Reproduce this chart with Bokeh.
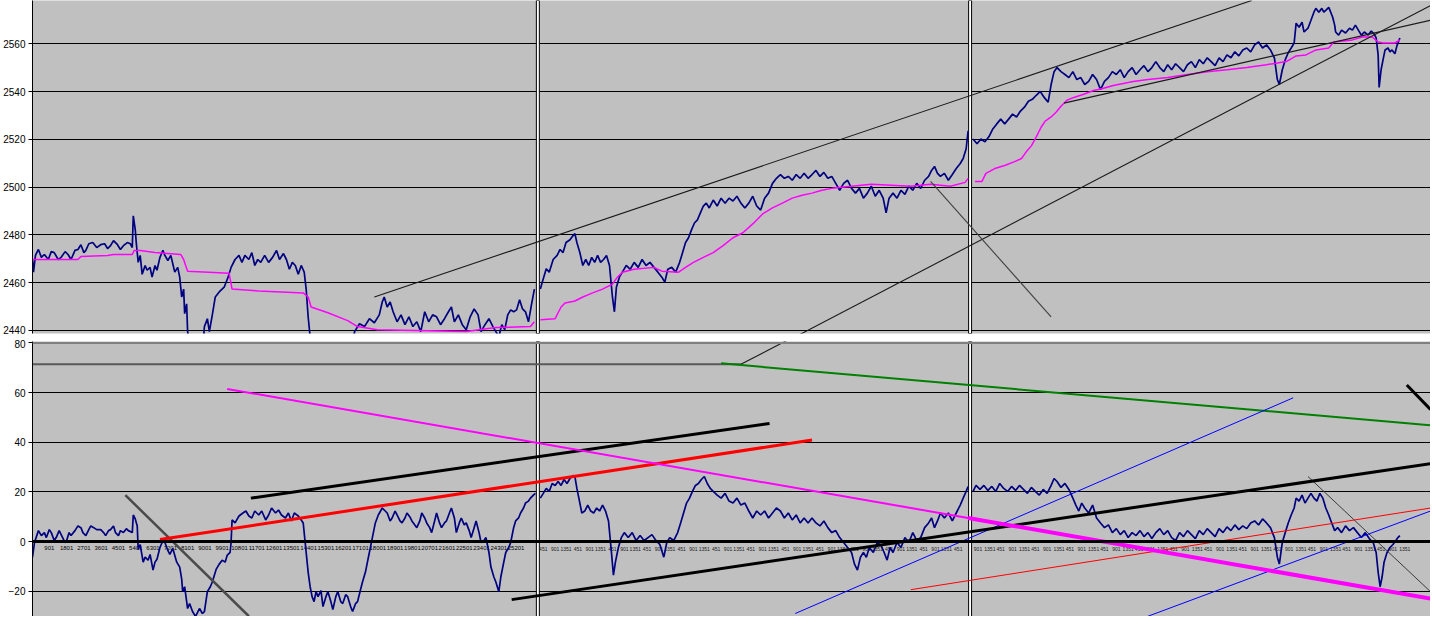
from bokeh.plotting import figure
from bokeh.layouts import column
from bokeh.models import Range1d, FixedTicker, Span
from bokeh.core.properties import value
from bokeh.embed import file_html
from bokeh.resources import INLINE

# ---------------- data (x = bar position, y = value) ----------------
price_ticks = [2440, 2460, 2480, 2500, 2520, 2540, 2560]
osc_ticks = [-20, 0, 20, 40, 60, 80]
day_breaks = [542.5, 980]

price_day1 = [(31,2469.7),(32,2464.4),(34,2471.4),(37,2473.9),(40,2470.6),(43,2471.8),(47,2469.7),(50,2473.0),
 (53,2472.6),(57,2469.7),(60,2470.6),(64,2473.0),(67,2471.8),(70,2469.7),(74,2473.5),(77,2473.9),(80,2475.9),
 (83,2472.6),(85,2473.5),(88,2476.3),(92,2476.8),(96,2474.7),(100,2475.9),(104,2476.3),(107,2474.3),(110,2475.5),
 (113,2477.6),(117,2475.9),(120,2473.9),(123,2475.5),(127,2476.8),(130,2476.3),(132,2474.7),(133,2488.0),
 (135,2482.2),(136,2476.8),(138,2468.5),(140,2471.4),(142,2463.5),(145,2467.2),(147,2465.2),(150,2466.4),
 (152,2462.3),(155,2467.2),(157,2465.2),(160,2470.6),(163,2473.5),(165,2471.4),(168,2469.3),(171,2471.4),
 (175,2464.4),(178,2466.4),(180,2462.3),(182,2454.0),(184,2457.3),(185,2447.0),(187,2451.1),(188,2439.5),
 (190,2435.4),(194,2432.0),(199,2428.0),(203,2430.0),(205,2441.6),(208,2444.9),(210,2439.5),(213,2446.5),
 (216,2454.0),(220,2456.1),(225,2458.1),(229,2462.3),(232,2466.4),(236,2469.7),(240,2471.4),(243,2468.5),
 (246,2471.4),(250,2469.7),(253,2472.6),(256,2467.2),(259,2469.7),(262,2468.5),(266,2471.4),(270,2468.5),
 (274,2470.6),(278,2473.5),(281,2469.7),(285,2472.2),(288,2469.7),(291,2465.6),(294,2468.5),(297,2467.2),
 (300,2463.5),(303,2467.2),(306,2464.4),(308,2457.3),(310,2445.7),(312,2437.4),(318,2430.0),(325,2425.0),
 (332,2428.0),(338,2426.0),(344,2430.0),(350,2427.0),(354,2432.0),(357,2439.5),(362,2442.8),(367,2441.6),
 (372,2444.9),(377,2443.2),(382,2446.5),(385,2451.9),(387,2454.0),(390,2449.8),(393,2451.9),(396,2447.8),
 (400,2443.6),(404,2446.5),(408,2442.4),(412,2445.7),(416,2441.6),(420,2443.6),(424,2439.5),(428,2447.8),
 (432,2443.6),(436,2446.5),(440,2445.7),(444,2442.4),(448,2444.9),(452,2447.8),(455,2449.8),(458,2443.6),
 (462,2446.5),(466,2442.4),(470,2440.3),(474,2445.7),(478,2449.0),(482,2446.5),(485,2439.5),(489,2442.4),
 (493,2444.9),(497,2441.6),(500,2439.5),(503,2437.4),(506,2442.4),(509,2440.3),(512,2446.5),(515,2448.6),
 (518,2447.8),(521,2448.6),(524,2452.8),(527,2449.0),(530,2447.8),(533,2443.6),(536,2450.7),(539,2457.3)]

price_day2 = [(545,2457.3),(548,2461.6),(551,2465.8),(554,2464.4),(558,2469.7),(562,2471.4),(565,2473.9),
 (568,2472.6),(571,2476.8),(575,2478.0),(578,2479.7),(580,2480.5),(582,2476.8),(585,2472.6),(588,2467.2),
 (591,2469.7),(594,2467.2),(597,2470.6),(600,2468.5),(603,2471.4),(606,2468.5),(609,2469.7),(612,2471.4),
 (615,2467.2),(618,2454.0),(620,2447.8),(622,2458.1),(625,2462.3),(628,2464.4),(632,2467.2),(636,2465.6),
 (640,2468.5),(644,2466.4),(648,2469.7),(652,2467.2),(656,2468.5),(660,2466.4),(664,2464.4),(668,2462.3),
 (671,2460.2),(674,2465.6),(678,2466.4),(682,2464.4),(686,2468.5),(689,2472.6),(692,2476.8),(695,2478.8),
 (698,2482.1),(701,2485.0),(704,2486.3),(707,2489.2),(710,2492.1),(713,2493.3),(716,2491.3),(720,2494.6),
 (724,2492.1),(728,2495.4),(732,2493.3),(736,2495.4),(740,2494.2),(744,2496.2),(748,2493.3),(752,2491.3),
 (756,2493.3),(760,2496.2),(764,2492.1),(768,2490.4),(772,2495.4),(776,2497.5),(780,2501.6),(784,2503.7),
 (788,2505.3),(792,2503.7),(796,2504.5),(800,2502.9),(804,2505.3),(808,2503.7),(812,2505.8),(816,2503.7),
 (820,2505.3),(824,2507.0),(828,2504.5),(832,2506.2),(836,2503.7),(840,2504.5),(844,2501.6),(848,2498.7),
 (852,2501.6),(856,2502.9),(860,2499.5),(864,2497.5),(868,2499.5),(872,2495.4),(876,2497.5),(880,2500.4),
 (884,2496.2),(888,2498.7),(892,2495.4),(895,2489.2),(898,2495.4),(902,2497.5),(906,2495.4),(910,2498.7),
 (914,2497.0),(918,2500.4),(922,2498.7),(926,2501.6),(930,2499.5),(934,2502.9),(938,2504.5),(941,2507.0),
 (944,2508.7),(947,2505.8),(950,2504.5),(954,2505.8),(958,2502.9),(962,2505.3),(966,2507.8),(970,2509.9),
 (973,2512.0),(976,2516.1),(978,2523.6)]

price_day3 = [(983,2520.2),(987,2518.2),(991,2520.2),(995,2519.0),(999,2521.1),(1003,2524.4),(1007,2526.5),
 (1011,2528.5),(1015,2526.5),(1019,2528.5),(1023,2530.6),(1027,2529.4),(1031,2531.9),(1035,2533.5),(1039,2536.0),
 (1043,2536.8),(1047,2538.5),(1051,2540.1),(1055,2537.6),(1059,2535.6),(1062,2543.0),(1065,2548.4),(1068,2550.1),
 (1072,2548.4),(1076,2547.2),(1080,2545.9),(1084,2548.4),(1088,2545.1),(1092,2545.9),(1096,2543.0),(1100,2544.3),
 (1104,2547.2),(1108,2545.1),(1112,2540.9),(1116,2544.3),(1120,2545.9),(1124,2548.4),(1128,2547.2),(1132,2549.2),
 (1136,2545.9),(1140,2548.4),(1144,2550.1),(1148,2547.2),(1152,2549.2),(1156,2550.9),(1160,2548.4),(1164,2550.1),
 (1168,2552.6),(1172,2550.1),(1176,2548.4),(1180,2551.3),(1184,2549.2),(1188,2551.7),(1192,2550.1),(1196,2548.4),
 (1200,2551.3),(1204,2552.6),(1208,2550.1),(1212,2553.4),(1216,2551.7),(1220,2554.2),(1224,2552.6),(1228,2550.9),
 (1232,2554.2),(1236,2552.6),(1240,2555.4),(1244,2554.2),(1248,2556.7),(1252,2555.0),(1256,2557.5),(1260,2558.3),
 (1264,2556.7),(1268,2559.6),(1272,2560.8),(1276,2558.3),(1280,2559.6),(1284,2557.5),(1288,2554.2),(1291,2545.1),
 (1293,2543.0),(1296,2549.2),(1299,2553.4),(1302,2556.3),(1305,2558.3),(1308,2560.4),(1310,2568.7),(1313,2567.0),
 (1316,2569.1),(1318,2565.0),(1322,2566.6),(1325,2569.9),(1328,2573.3),(1330,2574.9),(1333,2573.3),(1336,2574.9),
 (1338,2573.3),(1341,2574.5),(1343,2575.3),(1345,2573.3),(1347,2571.2),(1349,2567.9),(1350,2565.0),(1353,2563.7),
 (1356,2565.8),(1360,2564.6),(1364,2566.6),(1367,2565.8),(1370,2567.9),(1373,2565.8),(1376,2563.7),(1379,2565.0),
 (1383,2563.7),(1386,2565.4),(1389,2564.1),(1391,2562.5),(1393,2555.4),(1394,2541.8),(1396,2549.2),(1398,2553.4),
 (1400,2557.5),(1403,2558.3),(1405,2556.7),(1407,2557.5),(1410,2555.9),(1412,2559.2),(1415,2562.5)]

vwap_day1 = [(31,2469.7),(77,2469.7),(80,2471.0),(107,2471.4),(113,2471.8),(132,2471.8),(134,2473.5),(140,2473.5),
 (155,2472.6),(181,2471.8),(184,2469.7),(186,2467.2),(188,2464.8),(230,2463.9),(233,2457.3),(260,2456.5),
 (305,2455.7),(310,2454.0),(313,2449.8),(330,2447.4),(350,2444.1),(360,2441.6),(380,2440.3),(470,2439.5),
 (500,2441.2),(535,2441.6),(539,2443.6)]
vwap_day2 = [(545,2444.5),(560,2444.9),(563,2447.4),(566,2449.8),(570,2451.5),(580,2452.3),(588,2454.0),
 (598,2455.7),(608,2457.3),(618,2459.4),(623,2462.3),(628,2464.4),(640,2465.6),(660,2466.4),(668,2464.8),
 (685,2464.4),(692,2466.4),(700,2468.5),(710,2470.6),(720,2472.6),(730,2475.5),(740,2478.8),(750,2480.9),
 (760,2484.6),(770,2488.8),(780,2491.3),(790,2493.3),(800,2495.4),(810,2496.6),(820,2497.5),(830,2498.7),
 (840,2499.5),(860,2500.4),(880,2501.2),(900,2500.8),(920,2500.4),(940,2501.2),(960,2500.4),(975,2502.0),
 (978,2503.7)]
vwap_day3 = [(985,2502.4),(992,2502.4),(996,2505.8),(1005,2507.8),(1015,2509.1),(1025,2510.7),(1032,2512.0),
 (1037,2514.9),(1042,2517.3),(1047,2521.1),(1052,2525.2),(1056,2527.7),(1062,2529.4),(1067,2531.4),(1072,2533.9),
 (1078,2536.4),(1085,2537.6),(1095,2538.9),(1105,2540.5),(1115,2541.4),(1125,2542.6),(1135,2543.4),(1145,2544.3),
 (1160,2545.1),(1180,2545.9),(1200,2547.2),(1220,2548.4),(1240,2549.2),(1260,2550.1),(1280,2551.3),(1300,2552.6),
 (1310,2555.0),(1320,2555.4),(1330,2557.5),(1343,2558.3),(1348,2560.8),(1367,2561.7),(1377,2562.9),(1387,2562.9),
 (1393,2560.8),(1398,2560.4),(1410,2560.4),(1415,2561.7)]

osc_day1 = [(31,-6.3),(33,-0.4),(37,4.4),(40,2.4),(43,3.6),(45,1.6),(48,4.8),(50,3.6),(53,0.4),(55,1.6),(58,4.4),
 (60,2.8),(63,0.4),(65,-0.4),(68,3.6),(70,2.4),(74,4.4),(77,6.3),(80,5.6),(82,3.6),(85,2.4),(88,4.8),(90,6.3),
 (93,5.6),(96,4.8),(100,4.8),(103,3.6),(105,2.4),(108,4.4),(110,4.8),(113,6.3),(115,3.6),(118,2.4),(120,4.4),
 (123,3.6),(126,5.2),(128,4.4),(132,3.6),(133,10.7),(135,9.1),(137,6.3),(138,-3.2),(140,-1.2),(143,-8.3),
 (145,-6.3),(148,-7.5),(150,-5.2),(153,-11.5),(155,-8.3),(157,-7.1),(160,-2.4),(163,0.4),(165,-0.4),(168,-3.6),
 (170,-5.2),(173,-2.8),(177,-8.3),(180,-10.3),(182,-15.1),(183,-20.2),(185,-18.2),(188,-27.0),(190,-25.0),
 (193,-28.2),(196,-30.2),(200,-27.0),(203,-29.0),(205,-28.2),(208,-20.2),(211,-18.2),(213,-16.3),(217,-11.1),
 (220,-9.1),(223,-7.5),(226,-8.3),(228,-5.6),(231,-4.4),(232,-0.4),(233,8.7),(236,7.5),(240,10.3),(244,11.5),
 (247,12.3),(250,10.3),(253,9.5),(256,12.3),(260,10.7),(263,12.3),(267,8.7),(270,10.7),(273,13.5),(277,11.5),
 (280,12.7),(283,10.7),(287,9.5),(290,11.5),(293,8.3),(296,11.5),(300,10.3),(303,8.7),(305,7.5),(308,-4.4),
 (310,-12.3),(312,-18.2),(314,-22.2),(316,-24.2),(318,-20.2),(320,-22.2),(323,-19.8),(325,-26.2),(328,-22.2),
 (330,-20.2),(333,-24.2),(335,-27.4),(338,-22.2),(340,-20.2),(343,-24.2),(345,-25.0),(348,-21.4),(350,-22.2),
 (353,-26.2),(355,-28.2),(358,-25.0),(360,-24.2),(363,-19.4),(365,-16.3),(368,-12.3),(370,-8.3),(373,-2.4),
 (375,1.6),(378,7.5),(381,10.7),(385,13.5),(388,12.3),(390,11.5),(393,8.3),(395,9.5),(398,12.3),(400,10.7),
 (403,8.3),(405,7.5),(408,9.5),(410,11.5),(413,9.9),(415,8.3),(418,6.7),(420,5.6),(423,8.3),(425,11.5),
 (428,9.5),(430,7.5),(433,5.6),(435,3.6),(438,8.3),(440,11.5),(443,7.5),(445,5.6),(448,7.5),(450,8.3),
 (453,11.5),(455,13.5),(458,9.5),(460,3.6),(463,7.5),(465,9.5),(468,6.7),(470,7.5),(473,4.4),(475,1.6),
 (478,5.6),(480,8.3),(483,3.6),(485,-0.4),(488,0.4),(490,1.6),(493,-4.4),(495,-10.3),(498,-14.3),(500,-16.3),
 (503,-20.2),(505,-14.3),(508,-8.3),(510,-4.4),(513,-2.4),(515,-0.4),(518,5.6),(520,8.3),(523,9.5),(525,11.5),
 (528,13.5),(530,15.5),(533,16.3),(535,17.5),(538,18.7),(540,19.4)]

osc_day2 = [(545,17.5),(548,19.4),(551,21.4),(554,20.2),(557,23.4),(560,22.6),(563,24.2),(566,22.6),(569,25.0),
 (572,23.4),(575,25.4),(578,26.6),(580,26.2),(582,21.4),(584,17.5),(587,11.5),(590,12.3),(593,14.7),(596,12.3),
 (599,11.5),(602,13.5),(605,12.3),(608,14.7),(611,12.3),(614,8.3),(617,-4.4),(619,-13.5),(621,-8.3),(624,-2.4),
 (627,1.6),(630,3.6),(634,1.6),(638,3.6),(642,0.4),(646,2.4),(650,0.4),(654,1.6),(658,2.8),(662,0.4),(666,-1.2),
 (670,-6.3),(673,-0.4),(676,1.6),(680,0.4),(684,3.6),(687,7.5),(690,11.5),(693,15.5),(696,17.5),(699,20.2),
 (702,22.6),(705,23.4),(708,25.0),(711,26.2),(714,23.4),(717,21.4),(720,20.2),(724,18.7),(728,17.5),(732,19.4),
 (736,16.3),(740,15.5),(744,17.5),(748,14.7),(752,15.5),(756,12.3),(760,9.5),(764,12.3),(768,10.7),(772,12.3),
 (776,9.5),(780,11.5),(784,13.5),(788,12.3),(792,9.5),(796,11.5),(800,8.7),(804,10.7),(808,7.5),(812,9.5),
 (816,7.5),(820,9.5),(824,7.5),(828,6.3),(832,8.3),(836,5.6),(840,3.6),(844,4.4),(848,1.6),(852,-0.4),
 (856,-2.4),(860,-4.4),(863,-9.1),(866,-11.5),(869,-6.3),(872,-4.4),(875,-6.3),(878,-2.4),(882,-4.4),(886,-0.4),
 (890,-1.6),(893,-4.4),(896,-7.5),(899,-2.4),(902,-4.4),(906,-0.4),(910,-2.4),(914,1.6),(918,-0.4),(922,3.6),
 (926,0.4),(930,1.6),(934,5.6),(938,7.5),(941,9.5),(944,5.6),(947,8.3),(950,11.5),(954,9.5),(958,11.5),
 (962,8.3),(966,11.5),(970,14.7),(973,17.5),(976,20.2),(978,22.2)]

osc_day3 = [(983,20.2),(986,22.6),(990,21.0),(994,22.6),(998,20.6),(1002,22.2),(1006,20.2),(1010,23.4),(1014,21.4),
 (1018,20.2),(1022,22.2),(1026,20.6),(1030,22.6),(1034,21.0),(1038,19.4),(1042,21.8),(1046,20.2),(1050,18.7),
 (1054,21.0),(1058,19.4),(1062,22.6),(1065,25.4),(1068,24.2),(1072,21.8),(1076,23.4),(1080,21.0),(1084,17.5),
 (1087,14.7),(1090,12.3),(1093,15.5),(1096,13.5),(1100,11.5),(1104,14.7),(1108,9.5),(1112,7.5),(1116,5.6),
 (1120,6.7),(1124,3.6),(1128,5.2),(1132,2.8),(1136,4.4),(1140,1.6),(1144,3.6),(1148,2.4),(1152,4.4),(1156,2.0),
 (1160,3.6),(1164,1.2),(1168,3.6),(1172,5.2),(1176,2.8),(1180,4.4),(1184,1.6),(1188,0.4),(1192,3.6),(1196,2.0),
 (1200,4.4),(1204,2.8),(1208,1.2),(1212,4.4),(1216,2.8),(1220,5.2),(1224,3.6),(1228,2.0),(1232,5.2),(1236,3.6),
 (1240,5.9),(1244,4.4),(1248,6.7),(1252,4.8),(1256,6.3),(1260,5.2),(1264,7.5),(1268,8.3),(1272,6.7),(1276,9.1),
 (1280,7.5),(1284,5.6),(1288,1.6),(1291,-6.3),(1293,-9.1),(1296,-0.4),(1299,3.6),(1302,7.5),(1305,10.7),
 (1308,13.5),(1310,17.5),(1313,16.3),(1316,18.7),(1319,15.5),(1322,17.5),(1325,19.4),(1328,17.5),(1331,16.3),
 (1334,19.4),(1337,17.5),(1340,13.5),(1343,10.7),(1346,7.5),(1349,4.4),(1352,5.6),(1356,3.6),(1360,6.3),
 (1364,4.4),(1368,5.6),(1372,3.6),(1376,1.6),(1380,3.6),(1384,1.2),(1388,-0.4),(1391,-4.4),(1393,-12.3),
 (1395,-18.2),(1397,-14.3),(1399,-8.3),(1402,-4.4),(1405,-2.4),(1408,-1.2),(1411,0.4),(1413,1.6),(1415,2.4)]

# trend lines drawn on the price panel (endpoints)
price_channel_upper = [(377, 2454.0), (1265, 2578.2)]
price_channel_lower = [(748, 2425.4), (1446, 2576.1)]
price_short_up = [(1075, 2535.2), (1446, 2569.9)]
price_down = [(940, 2502.4), (1062, 2445.7)]

# trend lines drawn on the oscillator panel (endpoints)
osc_channel_lower = [(748, 71.4), (1446, 215.9)]
osc_level = [(31, 71.4), (748, 71.4)]
osc_magenta_a = [(228, 61.5), (978, 9.5)]
osc_magenta_b = [(978, 9.5), (1446, -23.0)]
osc_red = [(160, 0.8), (820, 40.9)]
osc_black_up = [(252, 17.5), (777, 47.6)]
osc_black_low = [(516, -23.4), (1446, 31.4)]
osc_green = [(728, 71.8), (1446, 46.8)]
osc_blue_a = [(803, -29.0), (1307, 57.9)]
osc_blue_b = [(1160, -30.1), (1446, 12.3)]
osc_red_thin = [(920, -19.4), (1446, 13.5)]
osc_gray_a = [(125, 18.7), (250, -30.1)]
osc_gray_b = [(1322, 26.2), (1446, -20.2)]
osc_black_short = [(1422, 63.1), (1446, 53.2)]

# bar-count labels printed under the zero line
bar_label_x = [48, 65.5, 83, 100.5, 118, 135.5, 153, 170.5, 188, 205.5, 223, 240.5, 258, 275.5, 293, 310.5,
               328, 345.5, 363, 380.5, 398, 415.5, 433, 450.5, 468, 485.5, 503, 520.5]
bar_label_text = ["901", "1801", "2701", "3601", "4501", "5401", "6301", "7201", "8101", "9001", "9901",
                  "10801", "11701", "12601", "13501", "14401", "15301", "16201", "17101", "18001", "18901",
                  "19801", "20701", "21601", "22501", "23401", "24301", "25201"]
bar_label2_x = [548, 560, 571, 583, 595, 606, 618, 630, 641, 653, 665, 676, 688, 700, 711, 723, 735, 746, 758,
                770, 781, 793, 805, 816, 828, 840, 851, 863, 875, 886, 898, 910, 921, 933, 945, 956, 968,
                988, 1000, 1011, 1023, 1035, 1046, 1058, 1070, 1081, 1093, 1105, 1116, 1128, 1140, 1151, 1163,
                1175, 1186, 1198, 1210, 1221, 1233, 1245, 1256, 1268, 1280, 1291, 1303, 1315, 1326, 1338,
                1350, 1361, 1373, 1385, 1396, 1408, 1420]
bar_label2_text = ["451", "901", "1351"] * 25

# ---------------- figures ----------------
FONT = "Liberation Sans"
GRAY = "#C0C0C0"
W = 1430
x_range = Range1d(31, 1446)
p_lo, p_hi = 2438.7, 2578.2
o_lo, o_hi = -30.2, 80.6


def xy(pairs):
    return [a for a, _ in pairs], [b for _, b in pairs]


def style_axis(p, ticks):
    ax = p.yaxis[0]
    ax.ticker = FixedTicker(ticks=ticks)
    ax.axis_line_color = "black"
    ax.axis_line_width = 1
    ax.major_tick_in = 0
    ax.major_tick_out = 4
    ax.minor_tick_line_color = None
    ax.major_tick_line_color = "black"
    ax.major_label_standoff = 3
    ax.major_label_text_font = FONT
    ax.major_label_text_font_size = "10px"
    ax.major_label_text_color = "black"
    p.xgrid.visible = False
    p.ygrid.ticker = FixedTicker(ticks=ticks)
    p.ygrid.grid_line_color = "black"
    p.ygrid.grid_line_width = 1
    p.background_fill_color = GRAY
    p.border_fill_color = "white"
    p.outline_line_color = None


top = figure(width=W, height=339, x_range=x_range, y_range=Range1d(p_lo, p_hi),
             output_backend="svg", toolbar_location=None, x_axis_location=None,
             min_border_left=31, min_border_right=0, min_border_top=0, min_border_bottom=6)
style_axis(top, price_ticks)

top.vbar(x=day_breaks, width=3, bottom=p_lo, top=p_hi, fill_color="white",
         line_color="black", line_width=1)

for pairs in (price_day1, price_day2, price_day3):
    xs, ys = xy(pairs)
    top.line(xs, ys, line_color="#000080", line_width=1.7)
for pairs in (vwap_day1, vwap_day2, vwap_day3):
    xs, ys = xy(pairs)
    top.line(xs, ys, line_color="#FF00FF", line_width=1.5)
for pairs in (price_channel_upper, price_channel_lower, price_short_up):
    xs, ys = xy(pairs)
    top.line(xs, ys, line_color="#1a1a1a", line_width=1.1)
xs, ys = xy(price_down)
top.line(xs, ys, line_color="#404040", line_width=1.1)

bot = figure(width=W, height=277, x_range=x_range, y_range=Range1d(o_lo, o_hi),
             output_backend="svg", toolbar_location=None, x_axis_location=None,
             min_border_left=31, min_border_right=0, min_border_top=2, min_border_bottom=0)
style_axis(bot, osc_ticks)
bot.ygrid.ticker = FixedTicker(ticks=[-20, 20, 40, 60])
bot.add_layout(Span(location=80, dimension="width", line_color="#808080", line_width=2))

bot.vbar(x=day_breaks, width=3, bottom=o_lo, top=o_hi, fill_color="white",
         line_color="black", line_width=1)
bot.add_layout(Span(location=0, dimension="width", line_color="black", line_width=3))

bot.text(x=bar_label_x, y=[0] * len(bar_label_x), text=bar_label_text, text_font=value(FONT),
         text_font_size="6px", text_align="center", text_baseline="top", y_offset=4, text_color="black")
bot.text(x=bar_label2_x, y=[0] * len(bar_label2_x), text=bar_label2_text[:len(bar_label2_x)],
         text_font=value(FONT), text_font_size="5px", text_align="center", text_baseline="top",
         y_offset=5, text_color="#202020")

for pairs in (osc_day1, osc_day2, osc_day3):
    xs, ys = xy(pairs)
    bot.line(xs, ys, line_color="#000080", line_width=1.7)

lines = [
    (osc_level, "#5a5a5a", 2),
    (osc_channel_lower, "#1a1a1a", 1.1),
    (osc_gray_a, "#4a4a4a", 2.5),
    (osc_gray_b, "#3a3a3a", 1),
    (osc_green, "#008000", 2),
    (osc_blue_a, "#0000FF", 1),
    (osc_blue_b, "#0000FF", 1),
    (osc_red_thin, "#FF0000", 1),
    (osc_black_up, "black", 3),
    (osc_black_low, "black", 3),
    (osc_red, "#FF0000", 3),
    (osc_magenta_a, "#FF00FF", 2),
    (osc_magenta_b, "#FF00FF", 4),
    (osc_black_short, "black", 3),
]
for pairs, color, width in lines:
    xs, ys = xy(pairs)
    bot.line(xs, ys, line_color=color, line_width=width)

layout = column(top, bot, spacing=0)
open("out.html", "w").write(file_html(layout, INLINE))
